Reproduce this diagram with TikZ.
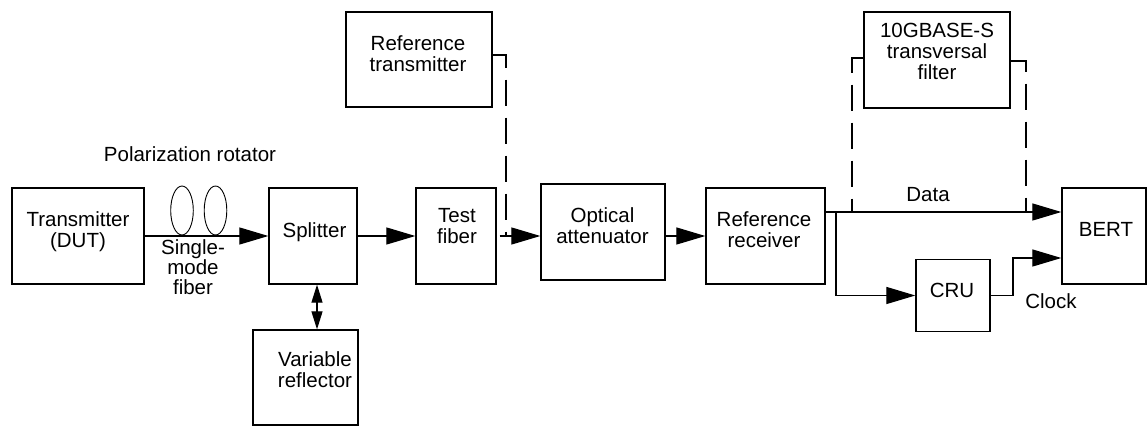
\documentclass[tikz,border=0pt]{standalone}
\usepackage{fontspec}
\setmainfont{Liberation Sans}
\usetikzlibrary{arrows.meta,shapes.geometric}
\begin{document}
\begin{tikzpicture}[x=1pt,y=-1pt,
  box/.style={draw, line width=1.3pt, inner sep=0pt},
  lbl/.style={inner sep=0pt, align=center, font=\fontsize{20.5}{21}\selectfont},
  conn/.style={line width=1.2pt},
  big/.style={conn, -{Triangle[length=29pt,width=17pt]}},
  dbl/.style={conn, {Triangle[length=18pt,width=11pt]}-{Triangle[length=18pt,width=11pt]}},
  dsh/.style={line width=1.2pt, dash pattern=on 26pt off 12pt},
  rot/.style={draw, line width=0.9pt, ellipse, minimum width=22.6pt, minimum height=49pt, inner sep=0pt}]
\useasboundingbox (0,0) rectangle (1148,427);

% boxes
\node[box, minimum width=132pt, minimum height=96pt] (tx) at (78,236) {};
\node[box, minimum width=88pt,  minimum height=96pt] (sp) at (313,236) {};
\node[box, minimum width=80pt,  minimum height=96pt] (tf) at (456,236) {};
\node[box, minimum width=124pt, minimum height=96pt] (at) at (603,232) {};
\node[box, minimum width=119pt, minimum height=96pt] (rr) at (765.5,236) {};
\node[box, minimum width=84pt,  minimum height=96pt] (bert) at (1104,236) {};
\node[box, minimum width=74pt,  minimum height=72pt] (cru) at (953,295.5) {};
\node[box, minimum width=105pt, minimum height=95pt] (vr) at (305.5,377.5) {};
\node[box, minimum width=146pt, minimum height=95pt] (rt) at (419,59.5) {};
\node[box, minimum width=146pt, minimum height=96pt] (fl) at (937,60) {};

% texts
\node[lbl] (tx-t) at (78,231.3) {Transmitter\\(DUT)};
\node[lbl] (sp-t) at (314.5,232.7) {Splitter};
\node[lbl] (tf-t) at (457,225.7) {Test\\fiber};
\node[lbl] (at-t) at (602.5,225.6) {Optical\\attenuator};
\node[lbl] (rr-t) at (764,229.5) {Reference\\receiver};
\node[lbl] (bert-t) at (1106,229.5) {BERT};
\node[lbl] (cru-t) at (952,290) {CRU};
\node[lbl] (vr-t) at (315,369.5) {Variable\\reflector};
\node[lbl] (rt-t) at (418,54) {Reference\\transmitter};
\node[lbl] (fl-t) at (937,51) {10GBASE-S\\transversal\\filter};
\node[lbl] (pol-t) at (190,154.5) {Polarization rotator};
\node[lbl, font=\fontsize{20.5}{20}\selectfont] (smf-t) at (193,266.7) {Single-\\mode\\fiber};
\node[lbl] (data-t) at (928,195) {Data};
\node[lbl] (clk-t) at (1051,301) {Clock};

% polarization rotator loops
\node[rot] (loop1) at (182,210.5) {};
\node[rot] (loop2) at (215.5,210.5) {};

% main chain
\draw[big] (tx.east) -- (sp.west);
\draw[big] (sp.east) -- (tf.west);
\draw[big] ([xshift=3pt]tf.east) -- (at.west |- tf.east);
\draw[big] (at.east |- rr.west) -- (rr.west);
\draw[dbl] (sp.south -| 317,0) -- (vr.north -| 317,0);

% data and clock paths
\coordinate (dA) at (825,212);
\coordinate (br) at (836,212);
\coordinate (ck) at (1013,258);
\draw[big] (rr.east |- dA) -- (bert.west |- dA);
\draw[big] (br) |- (cru.west);
\draw[big] (cru.east) -| (ck) -- (bert.west |- ck);

% dashed alternative paths
\coordinate (rtc) at (506,55);
\coordinate (rtb) at (506,236);
\draw[dsh] (rt.east |- rtc) -- (rtc) -- (rtb);
\coordinate (flL) at (852,58);
\coordinate (flLb) at (852,212);
\coordinate (flR) at (1026,61);
\coordinate (flRb) at (1026,212);
\draw[dsh] (fl.west |- flL) -- (flL) -- (flLb);
\draw[dsh] (fl.east |- flR) -- (flR) -- (flRb);
\end{tikzpicture}
\end{document}
